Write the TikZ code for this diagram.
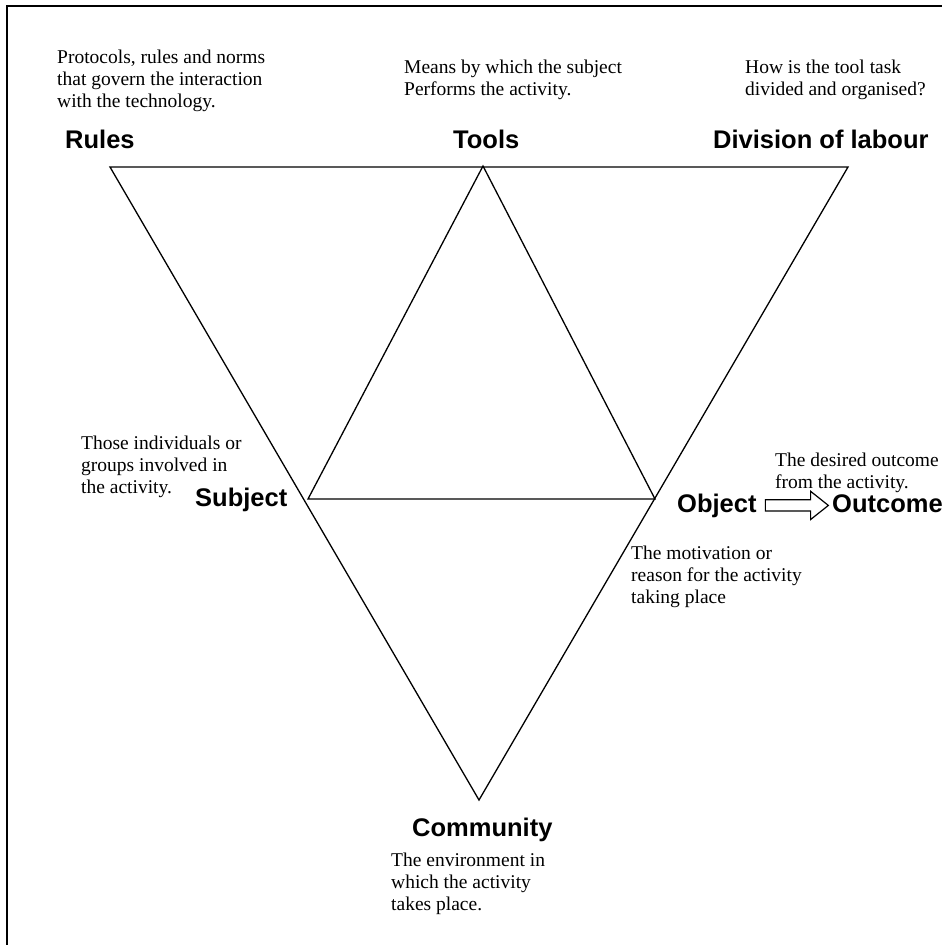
\documentclass[tikz,border=0pt]{standalone}
\usepackage{fontspec}
\setmainfont{Liberation Serif}
\newfontfamily\labelfont{Liberation Sans}
\usetikzlibrary{positioning,shapes.arrows}
\tikzset{
  desc/.style={inner sep=0pt,anchor=north west,align=left,
    font=\fontsize{19.5}{22}\selectfont},
  lbl/.style={inner sep=0pt,anchor=base west,
    font=\labelfont\bfseries\fontsize{25.5}{30}\selectfont},
  edge/.style={line width=1.3pt,line join=miter},
  arrowbox/.style={draw,line width=1.2pt,single arrow,inner xsep=0pt,
    inner ysep=5pt,minimum height=63pt,single arrow head extend=8.5pt,
    single arrow tip angle=77,anchor=west},
}

\begin{document}
\begin{tikzpicture}[x=1pt,y=-1pt]
\useasboundingbox (0,0) rectangle (942,945);

% Frame (right and bottom sides fall off the page)
\draw[line width=2pt] (7,6) rectangle (990,990);

% Corners of the two triangles
\coordinate (R) at (110,167);
\coordinate (D) at (848,167);
\coordinate (C) at (479,800);
\coordinate (T) at (483,166);
\coordinate (S) at (308,499);
\coordinate (O) at (655,499);

% Draw triangles
\draw[edge] (R) -- (D) -- (C) -- cycle;
\draw[edge] (T) -- (O) -- (S) -- cycle;

% Labels
\node[lbl] (rules) at (65,148) {Rules};
\node[lbl] (tools) at (453,148) {Tools};
\node[lbl] (labour) at (713,148) {Division of labour};
\node[lbl] (subject) at (195,506) {Subject};
\node[lbl] (object) at (677,512) {Object};
\node[lbl] (outcome) at (832,512) {Outcome};
\node[lbl] (community) at (412,836) {Community};

\node[arrowbox,right=8pt of object] (arrow) {};

% Descriptions
\node[desc] (rulesdesc) at (57,50) {Protocols, rules and norms\\that govern the interaction\\with the technology.};
\node[desc] (toolsdesc) at (404,60) {Means by which the subject\\Performs the activity.};
\node[desc] (labourdesc) at (745,60) {How is the tool task\\divided and organised?};
\node[desc] (subjectdesc) at (81,436) {Those individuals or\\groups involved in\\the activity.};
\node[desc] (outcomedesc) at (775,453) {The desired outcome\\from the activity.};
\node[desc] (objectdesc) at (631,546) {The motivation or\\reason for the activity\\taking place};
\node[desc] (communitydesc) at (391,853) {The environment in\\which the activity\\takes place.};

\end{tikzpicture}
\end{document}
